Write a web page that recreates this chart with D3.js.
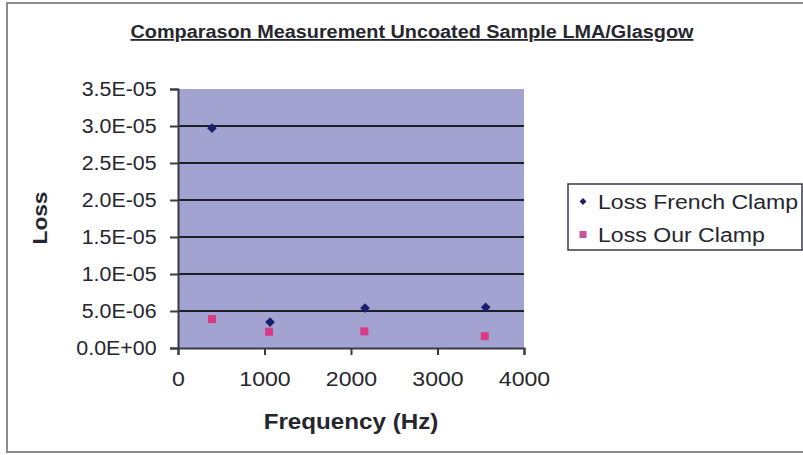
<!DOCTYPE html>
<html>
<head>
<meta charset="utf-8">
<script src="https://cdn.jsdelivr.net/npm/d3@7"></script>
<style>
  html, body { margin: 0; padding: 0; background: #ffffff; }
  svg { display: block; font-family: "Liberation Sans", Arial, sans-serif; }
</style>
</head>
<body>
<svg id="chart" width="803" height="455"></svg>
<script>
// Measured loss values for the uncoated sample, two clamp designs
const frenchFreq  = [393, 1064, 2162, 3557];
const frenchLoss  = [2.97e-5, 3.5e-6, 5.4e-6, 5.5e-6];
const ourFreq     = [393, 1052, 2154, 3546];
const ourLoss     = [3.9e-6, 2.2e-6, 2.25e-6, 1.6e-6];
const seriesNames = ["Loss French Clamp", "Loss Our Clamp"];
const xTicks = [0, 1000, 2000, 3000, 4000];
const yTicks = [0, 5e-6, 1e-5, 1.5e-5, 2e-5, 2.5e-5, 3e-5, 3.5e-5];
const titleText = "Comparason Measurement Uncoated Sample LMA/Glasgow";

const svg = d3.select("#chart");
const plot = { left: 178, right: 524, top: 89, bottom: 348 };
const ink = "#26262e";
const wide = "scale(1.1,1)";   // the chart's lettering runs slightly wide

const x = d3.scaleLinear().domain([0, 4000]).range([plot.left, plot.right]);
const y = d3.scaleLinear().domain([0, 3.5e-5]).range([plot.bottom, plot.top]);

// chart frame
svg.append("rect")
  .attr("x", 7).attr("y", 3).attr("width", 806).attr("height", 449)
  .attr("fill", "#ffffff").attr("stroke", "#8c8c8c").attr("stroke-width", 2);

// title
svg.append("text")
  .attr("x", 412).attr("y", 38)
  .attr("text-anchor", "middle")
  .attr("font-size", 18).attr("font-weight", "bold")
  .attr("fill", ink)
  .attr("text-decoration", "underline")
  .attr("textLength", 563).attr("lengthAdjust", "spacingAndGlyphs")
  .text(titleText);

// plot area
svg.append("rect")
  .attr("x", plot.left).attr("y", plot.top)
  .attr("width", plot.right - plot.left).attr("height", plot.bottom - plot.top)
  .attr("fill", "#a3a3d1");

// horizontal gridlines
svg.append("g").selectAll("line")
  .data(yTicks.filter(d => d > 0 && d < 3.5e-5))
  .join("line")
  .attr("x1", plot.left).attr("x2", plot.right)
  .attr("y1", d => y(d)).attr("y2", d => y(d))
  .attr("stroke", "#1e1e26").attr("stroke-width", 2);

// y axis
const yAxis = svg.append("g")
  .attr("transform", `translate(${plot.left},0)`)
  .call(d3.axisLeft(y).tickValues(yTicks).tickSize(8).tickPadding(12)
    .tickFormat(d => d.toExponential(1).replace(/e([+-])(\d)$/, "E$10$2").toUpperCase()));
yAxis.select(".domain").attr("stroke", "#3a3a44").attr("stroke-width", 2);
yAxis.selectAll(".tick line").attr("stroke", "#3a3a44").attr("stroke-width", 2);
yAxis.selectAll(".tick text")
  .attr("font-size", 20).attr("fill", ink)
  .attr("transform", "scale(1.07,1)")
  .attr("font-family", "Liberation Sans, Arial, sans-serif");

// x axis
const xAxis = svg.append("g")
  .attr("transform", `translate(0,${plot.bottom})`)
  .call(d3.axisBottom(x).tickValues(xTicks).tickSize(7).tickPadding(16).tickFormat(d3.format("d")));
xAxis.select(".domain").attr("stroke", "#3a3a44").attr("stroke-width", 2);
xAxis.selectAll(".tick line").attr("stroke", "#3a3a44").attr("stroke-width", 2);
xAxis.selectAll(".tick text")
  .attr("font-size", 21).attr("fill", ink)
  .attr("transform", wide)
  .attr("font-family", "Liberation Sans, Arial, sans-serif");

// axis titles
svg.append("text")
  .attr("transform", `translate(351,429) ${wide}`)
  .attr("text-anchor", "middle")
  .attr("font-size", 22).attr("font-weight", "bold").attr("fill", ink)
  .text("Frequency (Hz)");

svg.append("text")
  .attr("transform", "translate(47,218) rotate(-90) scale(1.08,1)")
  .attr("text-anchor", "middle")
  .attr("font-size", 21).attr("font-weight", "bold").attr("fill", ink)
  .text("Loss");

// markers
const diamond = d3.symbol().type(d3.symbolDiamond2);
const frenchColor = "#1c1f6e";
const ourColor = "#d93a84";

svg.append("g").selectAll("path")
  .data(d3.zip(frenchFreq, frenchLoss))
  .join("path")
  .attr("transform", d => `translate(${x(d[0])},${y(d[1])})`)
  .attr("d", diamond.size(60)())
  .attr("fill", frenchColor);

svg.append("g").selectAll("rect")
  .data(d3.zip(ourFreq, ourLoss))
  .join("rect")
  .attr("x", d => x(d[0]) - 4).attr("y", d => y(d[1]) - 4)
  .attr("width", 8).attr("height", 8)
  .attr("fill", ourColor);

// legend
const legend = svg.append("g");
legend.append("rect")
  .attr("x", 568).attr("y", 184).attr("width", 234).attr("height", 66)
  .attr("fill", "#ffffff").attr("stroke", "#3a3a44").attr("stroke-width", 1.5);

const rows = legend.selectAll("g.row").data(seriesNames).join("g")
  .attr("class", "row")
  .attr("transform", (d, i) => `translate(583,${201.5 + i * 33})`);
rows.filter((d, i) => i === 0).append("path")
  .attr("d", diamond.size(30)()).attr("fill", frenchColor);
rows.filter((d, i) => i === 1).append("rect")
  .attr("x", -3.5).attr("y", -3.5).attr("width", 7).attr("height", 7)
  .attr("fill", "#c8559a");
rows.append("text")
  .attr("transform", `translate(15,0) ${wide}`)
  .attr("dy", "0.36em")
  .attr("font-size", 21).attr("fill", ink)
  .text(d => d);
</script>
</body>
</html>
